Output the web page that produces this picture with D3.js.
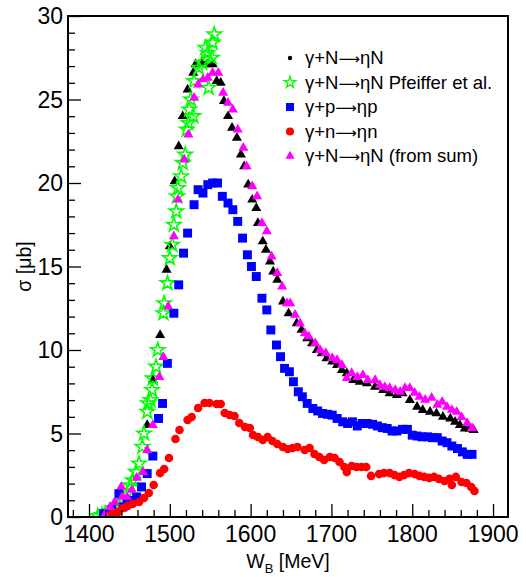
<!DOCTYPE html>
<html>
<head>
<meta charset="utf-8">
<script src="https://cdn.jsdelivr.net/npm/d3@7"></script>
<style>
  body { margin: 0; background: #fff; }
  text { font-family: "Liberation Sans", Arial, sans-serif; }
</style>
</head>
<body>
<svg id="chart"></svg>
<script>
// gamma+N -> eta N (black triangles)
var wN   = [1438,1472,1479,1488,1496,1500,1506,1511,1516,1522,1529,1532,1540,1546,1553,1558,1563,1567,1572,1577,1583,1588,1592,1597,1602,1607,1609,1615,1619,1624,1628,1633,1640,1647,1657,1663,1670,1676,1682,1688,1694,1701,1707,1713,1719,1727,1735,1744,1754,1764,1772,1781,1788,1797,1806,1813,1822,1830,1838,1847,1853,1859,1865,1871,1876];
var sigN = [1.6,5.5,8.2,10.9,14.8,16.2,20.1,22.2,24.0,25.6,26.6,27.1,27.2,27.1,27.1,26.1,26.0,24.9,24.0,23.3,22.7,21.7,21.0,19.9,19.0,18.5,17.6,16.5,16.0,15.3,14.7,14.2,12.9,12.2,11.6,11.2,10.7,10.4,10.0,9.8,9.5,9.3,9.1,8.8,8.6,8.2,8.1,8.0,7.8,7.6,7.4,7.3,7.4,7.0,6.6,6.4,6.3,6.2,6.0,5.9,5.7,5.5,5.3,5.3,5.2];

// Pfeiffer et al. (green open stars)
var wPf   = [1411,1416,1420,1426,1430,1436,1442,1447,1451,1454,1458,1462,1466,1468,1472,1473,1476,1478,1479,1483,1485,1492,1493,1497,1500,1503,1505,1508,1509,1510,1514,1516,1519,1521,1523,1524,1526,1529,1530,1536,1540,1544,1547,1548,1552,1553,1555];
var sigPf = [0.06,0.12,0.18,0.36,0.54,0.72,1.0,1.4,1.9,2.2,2.7,3.2,4.2,5.0,6.3,6.8,7.0,7.6,8.3,9.0,10.0,12.2,12.8,14.0,15.5,16.3,17.5,18.3,19.2,19.7,20.4,21.2,21.7,23.2,23.6,24.4,25.0,24.0,26.1,26.9,27.2,28.1,27.8,25.7,27.5,28.4,28.9];

// gamma+p -> eta p (blue squares)
var wP   = [1418,1428,1437,1442,1447,1451,1454,1459,1465,1472,1479,1486,1491,1497,1505,1511,1517,1522,1530,1535,1541,1547,1553,1559,1565,1572,1578,1584,1590,1596,1601,1607,1614,1620,1625,1632,1637,1642,1648,1653,1659,1664,1670,1677,1683,1689,1695,1701,1707,1714,1720,1726,1732,1738,1744,1751,1757,1763,1769,1775,1781,1788,1794,1800,1806,1812,1819,1825,1831,1837,1843,1849,1856,1862,1868,1874];
var sigP = [0.2,0.45,1.4,0.6,0.85,0.9,1.0,1.2,1.8,2.6,3.65,5.9,6.8,9.2,12.2,13.9,15.8,17.0,18.7,19.6,19.4,19.9,20.0,20.0,19.2,18.8,18.4,17.7,16.7,15.7,15.0,14.4,13.1,12.4,11.2,10.3,9.6,8.9,8.7,8.1,7.5,7.2,6.8,6.5,6.35,6.2,6.15,6.1,5.9,5.7,5.6,5.7,5.45,5.6,5.6,5.55,5.45,5.35,5.3,5.15,5.15,5.25,5.25,4.9,4.85,4.8,4.8,4.75,4.75,4.55,4.45,4.25,4.1,3.9,3.75,3.75];

// gamma+n -> eta n (red circles)
var wn   = [1424,1430,1436,1442,1448,1454,1462,1468,1474,1480,1488,1493,1499,1507,1512,1522,1527,1535,1543,1549,1558,1563,1568,1574,1580,1586,1593,1599,1603,1609,1615,1621,1627,1633,1640,1646,1652,1658,1667,1673,1679,1685,1691,1698,1704,1710,1716,1719,1725,1731,1737,1743,1749,1759,1765,1772,1778,1784,1790,1796,1803,1809,1815,1821,1827,1833,1840,1846,1849,1854,1861,1867,1873,1877];
var sign = [0.06,0.24,0.3,0.54,0.66,0.78,0.9,1.14,1.44,1.92,2.63,2.87,3.53,4.67,5.21,5.81,5.99,6.53,6.83,6.83,6.77,6.77,6.23,6.11,6.05,5.63,5.39,5.33,4.91,4.79,4.61,4.79,4.55,4.37,4.19,4.07,4.13,4.19,4.01,4.13,3.77,3.59,3.41,3.59,3.53,3.29,2.99,2.69,3.05,2.99,2.99,2.99,2.46,2.57,2.63,2.63,2.51,2.4,2.51,2.63,2.57,2.46,2.4,2.34,2.4,2.28,2.16,2.28,1.92,2.4,2.1,2.04,1.8,1.56];

// gamma+N -> eta N from sum (magenta triangles)
var wSum   = [1420,1426,1432,1440,1441,1447,1453,1459,1467,1472,1479,1487,1492,1498,1505,1510,1518,1523,1530,1535,1541,1547,1553,1560,1566,1572,1578,1584,1591,1595,1602,1608,1614,1620,1626,1633,1639,1645,1649,1655,1661,1667,1672,1680,1686,1693,1701,1707,1713,1719,1725,1732,1739,1745,1754,1760,1766,1772,1779,1785,1791,1797,1803,1809,1816,1824,1831,1837,1843,1849,1855,1861,1868,1874];
var sigSum = [0.18,0.6,0.9,1.8,1.2,1.2,1.62,2.34,2.69,4.01,5.51,8.38,9.58,12.6,16.8,19.0,21.4,22.9,25.1,25.9,26.2,26.3,26.6,26.6,25.4,24.8,24.4,23.2,22.1,21.0,19.8,19.2,17.6,17.1,15.6,14.6,13.8,12.8,12.8,12.1,11.6,11.0,10.8,10.4,10.0,9.82,9.52,9.4,9.1,8.32,8.62,8.38,8.5,8.2,8.2,7.9,7.78,7.72,7.6,7.49,7.72,7.72,7.43,7.19,7.01,7.13,6.71,6.89,6.59,6.41,6.29,5.99,5.63,5.33];

var xMajor = [1400,1500,1600,1700,1800,1900];
var yMajor = [0,5,10,15,20,25,30];

// legend text pieces: [before arrow, after arrow]
var legendLabels = [
  ["\u03b3+N", "\u03b7N"],
  ["\u03b3+N", "\u03b7N Pfeiffer et al."],
  ["\u03b3+p", "\u03b7p"],
  ["\u03b3+n", "\u03b7n"],
  ["\u03b3+N", "\u03b7N (from sum)"]
];

function drawChart() {
  var width = 526, height = 577;
  var m = { left: 68, right: 508, top: 16, bottom: 517 };

  var svg = d3.select("#chart").attr("width", width).attr("height", height);

  var x = d3.scaleLinear().domain([1374, 1918.5]).range([m.left, m.right]);
  var y = d3.scaleLinear().domain([0, 30]).range([m.bottom, m.top]);

  function zip(a, b) { return a.map(function(v, i) { return [v, b[i]]; }); }
  function place(d) { return "translate(" + x(d[0]) + "," + y(d[1]) + ")"; }

  svg.append("defs").append("clipPath").attr("id", "c")
    .append("rect").attr("x", m.left).attr("y", m.top).attr("width", m.right - m.left).attr("height", m.bottom - m.top);
  var plot = svg.append("g").attr("clip-path", "url(#c)");

  var tri = d3.symbol().type(d3.symbolTriangle).size(44);
  var sq = d3.symbol().type(d3.symbolSquare).size(80);
  var star = d3.symbol().type(d3.symbolStar).size(62);

  plot.append("g").selectAll("path").data(zip(wN, sigN)).join("path")
    .attr("d", tri).attr("fill", "#000").attr("transform", place);

  plot.append("g").selectAll("path").data(zip(wPf, sigPf)).join("path")
    .attr("d", star).attr("fill", "none").attr("stroke", "#00ff00").attr("stroke-width", 1.6)
    .attr("transform", place);

  plot.append("g").selectAll("path").data(zip(wP, sigP)).join("path")
    .attr("d", sq).attr("fill", "#0000ff").attr("transform", place);

  plot.append("g").selectAll("circle").data(zip(wn, sign)).join("circle")
    .attr("cx", function(d) { return x(d[0]); }).attr("cy", function(d) { return y(d[1]); })
    .attr("r", 4.3).attr("fill", "#ff0000");

  plot.append("g").selectAll("path").data(zip(wSum, sigSum)).join("path")
    .attr("d", tri).attr("fill", "#ff00ff").attr("transform", place);

  // frame
  svg.append("rect").attr("x", m.left).attr("y", m.top).attr("width", m.right - m.left).attr("height", m.bottom - m.top)
    .attr("fill", "none").attr("stroke", "#000").attr("stroke-width", 2);

  // x axis, ticks pointing inward
  var xAxis = svg.append("g").attr("transform", "translate(0," + m.bottom + ")");
  xAxis.call(d3.axisBottom(x).tickValues(d3.range(1380, 1901, 20)).tickSize(-7).tickFormat(""));
  xAxis.selectAll(".tick").filter(function(d) { return xMajor.indexOf(d) >= 0; }).select("line").attr("y2", -13);
  xAxis.select(".domain").remove();
  xAxis.selectAll("line").attr("stroke-width", 1.3);
  xAxis.selectAll(".lbl").data(xMajor).join("text").attr("class", "lbl")
    .attr("x", function(d) { return x(d); }).attr("y", 25).attr("text-anchor", "middle")
    .attr("fill", "#000").attr("font-size", 23).text(function(d) { return d; });

  var yAxis = svg.append("g").attr("transform", "translate(" + m.left + ",0)");
  yAxis.call(d3.axisLeft(y).tickValues(d3.range(0, 31, 1)).tickSize(-7).tickFormat(""));
  yAxis.selectAll(".tick").filter(function(d) { return yMajor.indexOf(d) >= 0; }).select("line").attr("x2", 13);
  yAxis.select(".domain").remove();
  yAxis.selectAll("line").attr("stroke-width", 1.3);
  yAxis.selectAll(".lbl").data(yMajor).join("text").attr("class", "lbl")
    .attr("x", -5).attr("y", function(d) { return y(d) + 8; }).attr("text-anchor", "end")
    .attr("fill", "#000").attr("font-size", 23).text(function(d) { return d; });

  // axis titles
  var xt = svg.append("text").attr("x", (m.left + m.right) / 2).attr("y", 568).attr("text-anchor", "middle").attr("font-size", 19.5);
  xt.append("tspan").text("W");
  xt.append("tspan").attr("font-size", 13).attr("dy", 5).text("B");
  xt.append("tspan").attr("dy", -5).text(" [MeV]");

  svg.append("text").attr("transform", "translate(31," + ((m.top + m.bottom) / 2) + ") rotate(-90)")
    .attr("text-anchor", "middle").attr("font-size", 19.5).text("\u03c3 [\u03bcb]");

  // legend
  var lg = svg.append("g");
  var ly0 = 58, ldy = 24.5, lmx = 290, ltx = 305;
  legendLabels.forEach(function(t, i) {
    var cy = ly0 + i * ldy;
    if (i === 0) lg.append("circle").attr("cx", lmx).attr("cy", cy).attr("r", 2.2).attr("fill", "#000");
    if (i === 1) lg.append("path").attr("d", d3.symbol().type(d3.symbolStar).size(40)).attr("transform", "translate(" + lmx + "," + cy + ")").attr("fill", "none").attr("stroke", "#00ff00").attr("stroke-width", 1.4);
    if (i === 2) lg.append("path").attr("d", d3.symbol().type(d3.symbolSquare).size(64)).attr("transform", "translate(" + lmx + "," + cy + ")").attr("fill", "#0000ff");
    if (i === 3) lg.append("circle").attr("cx", lmx).attr("cy", cy).attr("r", 4).attr("fill", "#ff0000");
    if (i === 4) lg.append("path").attr("d", d3.symbol().type(d3.symbolTriangle).size(36)).attr("transform", "translate(" + lmx + "," + cy + ")").attr("fill", "#ff00ff");
    var tx = lg.append("text").attr("x", ltx).attr("y", cy + 6).attr("font-size", 18.5);
    tx.append("tspan").text(t[0]);
    tx.append("tspan").attr("font-family", "DejaVu Sans").attr("font-size", 15).text("\u27f6");
    tx.append("tspan").text(t[1]);
  });
}
drawChart();
</script>
</body>
</html>
